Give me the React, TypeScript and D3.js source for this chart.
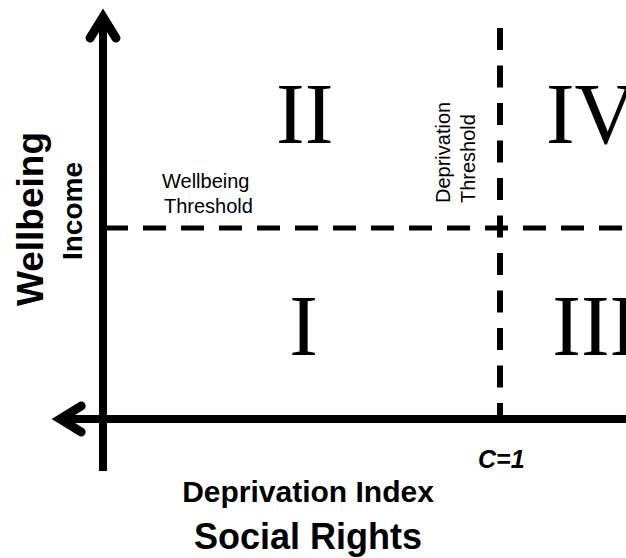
import React from 'react'
import * as d3 from 'd3'

// quadrant labels, placed in index units (x: deprivation index, y: wellbeing relative to threshold)
const quadrantLabels = ['I', 'II', 'III', 'IV']
const quadrantX = [0.505, 0.508, 1.24, 1.23]
const quadrantY = [0.335, 1.445, 0.335, 1.445]

// thresholds
const deprivationThreshold = 1
const wellbeingThreshold = 1
const thresholdTickLabel = 'C=1'

// axis extents in index units
const xExtent = [-0.133, 1.33]
const yExtent = [-0.272, 2.157]

const sans = '"Liberation Sans", Arial, sans-serif'
const serif = '"Liberation Serif", "Times New Roman", serif'

const W = 626
const H = 558

export default function App() {
  const x = d3.scaleLinear().domain([0, 1]).range([103, 500])
  const y = d3.scaleLinear().domain([0, 1]).range([419, 228])

  const x0 = x(0)
  const y0 = y(0)
  const tipTop = y(yExtent[1])
  const tipLeft = x(xExtent[0])

  const line = d3.line<[number, number]>()

  // arrow heads as open chevrons
  const upArrow = line([
    [x0 - 13, tipTop + 31],
    [x0, tipTop + 10],
    [x0 + 13, tipTop + 31]
  ])
  const leftArrow = line([
    [tipLeft + 31, y0 - 13],
    [tipLeft + 10, y0],
    [tipLeft + 31, y0 + 13]
  ])

  const cx = x(deprivationThreshold)
  const cy = y(wellbeingThreshold)

  return (
    <svg
      width={W}
      height={H}
      style={{position: 'absolute', left: 0, top: 0, background: '#fff'}}
    >
      <rect width={W} height={H} fill="#fff" />

      {/* wellbeing threshold */}
      <line
        x1={x0 + 2}
        x2={x(xExtent[1])}
        y1={cy}
        y2={cy}
        stroke="#000"
        strokeWidth={5}
        strokeDasharray="23 15"
      />
      {/* deprivation threshold */}
      <line
        x1={cx}
        x2={cx}
        y1={28}
        y2={y0}
        stroke="#000"
        strokeWidth={6}
        strokeDasharray="22 15.5"
      />

      {/* axes */}
      <line x1={x0} x2={x0} y1={tipTop + 8} y2={y(yExtent[0])} stroke="#000" strokeWidth={8} />
      <line x1={tipLeft + 8} x2={x(xExtent[1])} y1={y0} y2={y0} stroke="#000" strokeWidth={8} />
      <path d={upArrow || ''} fill="none" stroke="#000" strokeWidth={9} strokeLinecap="round" strokeLinejoin="miter" />
      <path d={leftArrow || ''} fill="none" stroke="#000" strokeWidth={9} strokeLinecap="round" strokeLinejoin="miter" />

      {/* quadrants */}
      {quadrantLabels.map((q, i) => (
        <text
          key={q}
          x={x(quadrantX[i])}
          y={y(quadrantY[i])}
          fontFamily={serif}
          fontSize={86}
          textAnchor="middle"
          fill="#000"
        >
          {q}
        </text>
      ))}

      {/* threshold labels */}
      <text fontFamily={sans} fontSize={20} fill="#000">
        <tspan x={162} y={188}>Wellbeing</tspan>
        <tspan x={164} y={213}>Threshold</tspan>
      </text>
      <text fontFamily={sans} fontSize={20} fill="#000" transform="rotate(-90)">
        <tspan x={-203} y={450}>Deprivation</tspan>
        <tspan x={-203} y={475}>Threshold</tspan>
      </text>

      <text
        x={cx - 22}
        y={468}
        fontFamily={sans}
        fontSize={25}
        fontWeight="bold"
        fontStyle="italic"
        fill="#000"
      >
        {thresholdTickLabel}
      </text>

      {/* axis titles */}
      <text x={308} y={502} fontFamily={sans} fontSize={30} fontWeight="bold" textAnchor="middle" fill="#000">
        Deprivation Index
      </text>
      <text x={308} y={549} fontFamily={sans} fontSize={36} fontWeight="bold" textAnchor="middle" fill="#000">
        Social Rights
      </text>
      <text
        transform="translate(43,219) rotate(-90)"
        fontFamily={sans}
        fontSize={37}
        fontWeight="bold"
        textAnchor="middle"
        fill="#000"
      >
        Wellbeing
      </text>
      <text
        transform="translate(82,211) rotate(-90)"
        fontFamily={sans}
        fontSize={28}
        fontWeight="bold"
        textAnchor="middle"
        fill="#000"
      >
        Income
      </text>
    </svg>
  )
}
